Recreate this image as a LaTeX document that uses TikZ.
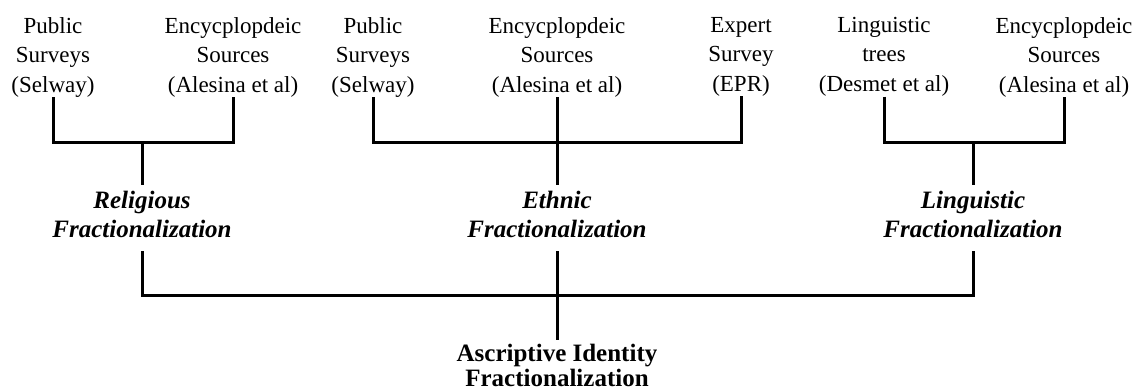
\documentclass[tikz,border=0pt]{standalone}
\usepackage{fontspec}
\setmainfont{Liberation Serif}
\begin{document}
\begin{tikzpicture}[x=1pt,y=-1pt,
  src/.style={font=\fontsize{23}{29.5}\selectfont, align=center, inner sep=0pt, anchor=north},
  frac/.style={font=\fontsize{25}{29}\selectfont\bfseries\itshape, align=center, inner sep=0pt, anchor=north},
  tot/.style={font=\fontsize{25}{25}\selectfont\bfseries, align=center, inner sep=0pt, anchor=north},
  conn/.style={line width=3pt, line join=miter}]
\useasboundingbox (0,0) rectangle (1134,391);
% sources
\node[src] (ps1) at (53,17) {Public\\Surveys\\(Selway)};
\node[src] (es1) at (233,17) {Encycplopdeic\\Sources\\(Alesina et al)};
\node[src] (ps2) at (373,17) {Public\\Surveys\\(Selway)};
\node[src] (es2) at (557,17) {Encycplopdeic\\Sources\\(Alesina et al)};
\node[src] (ep2) at (741,17) {Expert\\Survey\\(EPR)};
\node[src] (lt3) at (884,17) {Linguistic\\trees\\(Desmet et al)};
\node[src] (es3) at (1064,17) {Encycplopdeic\\Sources\\(Alesina et al)};
% fractionalizations
\node[frac] (rel) at (142,191) {Religious\\Fractionalization};
\node[frac] (eth) at (557,191) {Ethnic\\Fractionalization};
\node[frac] (lin) at (973,191) {Linguistic\\Fractionalization};
\node[tot] (asc) at (557,344) {Ascriptive Identity\\Fractionalization};
% junctions
\coordinate (j1) at (142,142);
\coordinate (j2) at (557,142);
\coordinate (j3) at (973,142);
\coordinate (j4) at (557,295);
% connectors
\draw[conn] (ps1.south) |- (j1) -| (es1.south);
\draw[conn] (j1) -- ([yshift=6pt]rel.north);
\draw[conn] (ps2.south) |- (j2) -| (ep2.south);
\draw[conn] (es2.south) -- ([yshift=6pt]eth.north);
\draw[conn] (lt3.south) |- (j3) -| (es3.south);
\draw[conn] (j3) -- ([yshift=6pt]lin.north);
\draw[conn] ([yshift=-13pt]rel.south) |- (j4) -| ([yshift=-13pt]lin.south);
\draw[conn] ([yshift=-13pt]eth.south) -- ([yshift=4pt]asc.north);
\end{tikzpicture}
\end{document}
